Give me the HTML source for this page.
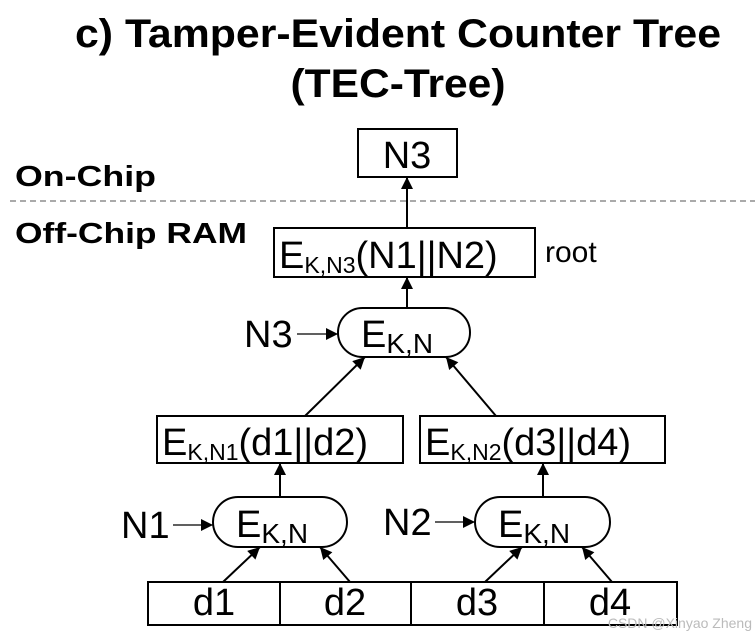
<!DOCTYPE html>
<html><head><meta charset="utf-8"><style>
html,body{margin:0;padding:0;background:#fff;}
svg{display:block;}
text{font-family:"Liberation Sans",Arial,sans-serif;fill:#000;}
</style></head><body>
<svg width="755" height="642" viewBox="0 0 755 642" xmlns="http://www.w3.org/2000/svg">
<defs>
<marker id="a" viewBox="0 0 10 10" refX="10" refY="5" markerWidth="10" markerHeight="10" markerUnits="userSpaceOnUse" orient="auto">
<path d="M0,0 L10,5 L0,10 z" fill="#000"/></marker>
<marker id="b" viewBox="0 0 10 10" refX="10" refY="5" markerWidth="16" markerHeight="12" markerUnits="userSpaceOnUse" orient="auto">
<path d="M0,0 L10,5 L0,10 z" fill="#000"/></marker>
</defs>
<text x="398" y="47" font-size="40" font-weight="bold" text-anchor="middle" textLength="646" lengthAdjust="spacingAndGlyphs">c) Tamper-Evident Counter Tree</text>
<text x="398" y="97" font-size="40" font-weight="bold" text-anchor="middle" textLength="215" lengthAdjust="spacingAndGlyphs">(TEC-Tree)</text>
<text x="15" y="186" font-size="29" font-weight="bold" textLength="141" lengthAdjust="spacingAndGlyphs">On-Chip</text>
<text x="15" y="243" font-size="29" font-weight="bold" textLength="232" lengthAdjust="spacingAndGlyphs">Off-Chip RAM</text>
<line x1="10" y1="201" x2="755" y2="201" stroke="#777" stroke-width="1.3" stroke-dasharray="6,4"/>
<g fill="none" stroke="#000" stroke-width="2">
<rect x="358" y="129" width="99" height="48"/>
<rect x="274" y="228" width="261" height="49"/>
<rect x="338" y="308" width="132" height="49" rx="24.5"/>
<rect x="157" y="416" width="246" height="47"/>
<rect x="420" y="416" width="245" height="47"/>
<rect x="213" y="497" width="134" height="50" rx="25"/>
<rect x="475" y="497" width="135" height="50" rx="25"/>
<rect x="148" y="582" width="529" height="43"/>
<line x1="280" y1="582" x2="280" y2="625"/>
<line x1="411" y1="582" x2="411" y2="625"/>
<line x1="544" y1="582" x2="544" y2="625"/>
</g>
<g stroke="#000" stroke-width="2">
<line x1="407" y1="228" x2="407" y2="177" marker-end="url(#b)"/>
<line x1="407" y1="308" x2="407" y2="277" marker-end="url(#b)"/>
<line x1="305" y1="416" x2="365" y2="357" marker-end="url(#b)"/>
<line x1="496" y1="416" x2="446" y2="357" marker-end="url(#b)"/>
<line x1="280" y1="497" x2="280" y2="463" marker-end="url(#b)"/>
<line x1="543" y1="497" x2="543" y2="463" marker-end="url(#b)"/>
<line x1="223" y1="582" x2="260" y2="547" marker-end="url(#b)"/>
<line x1="350" y1="582" x2="320" y2="547" marker-end="url(#b)"/>
<line x1="485" y1="582" x2="522" y2="547" marker-end="url(#b)"/>
<line x1="612" y1="582" x2="582" y2="547" marker-end="url(#b)"/>
</g>
<g stroke="#000" stroke-width="1.3">
<line x1="297" y1="334" x2="338" y2="334" marker-end="url(#b)"/>
<line x1="173" y1="525" x2="213" y2="525" marker-end="url(#b)"/>
<line x1="435" y1="522" x2="475" y2="522" marker-end="url(#b)"/>
</g>
<g font-size="38">
<text x="407" y="168" text-anchor="middle">N3</text>
<text x="279" y="268">E<tspan font-size="23" dy="5">K,N3</tspan><tspan dy="-5">(N1||N2)</tspan></text>
<text x="545" y="262" font-size="30">root</text>
<text x="244" y="347">N3</text>
<text x="361" y="347">E<tspan font-size="28" dy="6">K,N</tspan></text>
<text x="162" y="455">E<tspan font-size="23" dy="5">K,N1</tspan><tspan dy="-5">(d1||d2)</tspan></text>
<text x="425" y="455">E<tspan font-size="23" dy="5">K,N2</tspan><tspan dy="-5">(d3||d4)</tspan></text>
<text x="121" y="538">N1</text>
<text x="383" y="535">N2</text>
<text x="236" y="537">E<tspan font-size="28" dy="6">K,N</tspan></text>
<text x="498" y="537">E<tspan font-size="28" dy="6">K,N</tspan></text>
<text x="214" y="615" text-anchor="middle">d1</text>
<text x="345" y="615" text-anchor="middle">d2</text>
<text x="477" y="615" text-anchor="middle">d3</text>
<text x="610" y="615" text-anchor="middle">d4</text>
</g>
<text x="752" y="628" font-size="14" text-anchor="end" fill="#bbb" style="fill:#bbb">CSDN @Xinyao Zheng</text>
</svg>
</body></html>
